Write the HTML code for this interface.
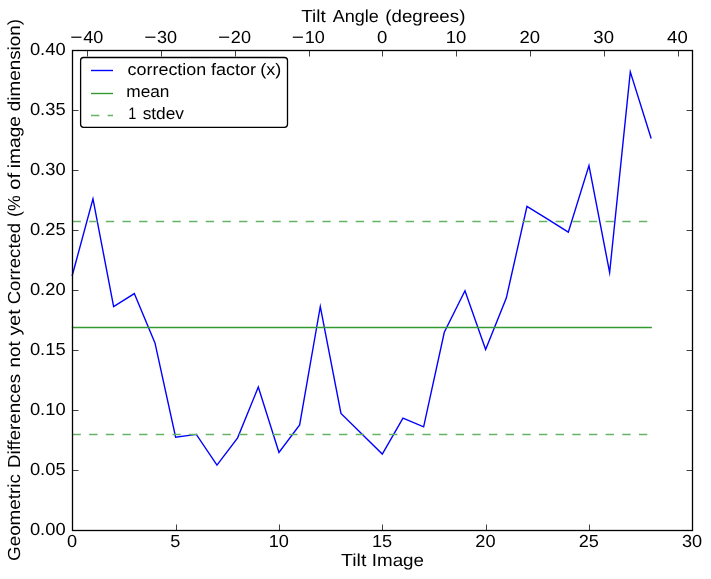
<!DOCTYPE html>
<html><head><meta charset="utf-8"><title>Tilt correction chart</title>
<style>
html,body{margin:0;padding:0;background:#fff;}
body{width:711px;height:579px;overflow:hidden;}
svg{display:block;will-change:transform;transform:translateZ(0);}
text{font-family:"Liberation Sans",sans-serif;fill:#000;text-rendering:geometricPrecision;}
.t{font-size:17.4px;}
.lg{font-size:16.6px;}
</style></head><body>
<svg width="711" height="579" viewBox="0 0 711 579">
<rect x="0" y="0" width="711" height="579" fill="#ffffff"/>

<polyline points="72.30,275.30 92.97,198.80 113.63,306.60 134.30,293.60 154.97,342.90 175.63,437.20 196.30,434.40 216.97,465.10 237.63,437.80 258.30,387.10 278.97,452.40 299.63,424.90 320.30,306.50 340.97,413.40 361.63,433.80 382.30,454.10 402.97,418.10 423.63,426.80 444.30,332.30 464.97,290.70 485.63,349.40 506.30,298.10 526.97,206.40 547.63,219.20 568.30,232.10 588.97,165.50 609.63,272.50 630.30,71.90 650.97,137.80" fill="none" stroke="#0000ff" stroke-width="1.4" stroke-linejoin="miter" stroke-miterlimit="10" stroke-linecap="square"/>
<line x1="72.50" y1="327.50" x2="651.17" y2="327.50" stroke="#339a33" stroke-width="1.4" stroke-linecap="square"/>
<line x1="72.50" y1="221.50" x2="651.17" y2="221.50" stroke="#66b366" stroke-width="1.4" stroke-dasharray="8.33 8.33"/>
<line x1="72.50" y1="434.50" x2="651.17" y2="434.50" stroke="#66b366" stroke-width="1.4" stroke-dasharray="8.33 8.33"/>
<path d="M72.5 530.5v-6.0M176.5 530.5v-6.0M279.5 530.5v-6.0M382.5 530.5v-6.0M486.5 530.5v-6.0M589.5 530.5v-6.0M692.5 530.5v-6.0M87.5 50.5v6.0M161.5 50.5v6.0M235.5 50.5v6.0M309.5 50.5v6.0M382.5 50.5v6.0M456.5 50.5v6.0M530.5 50.5v6.0M604.5 50.5v6.0M678.5 50.5v6.0M72.5 530.5h6.0M692.5 530.5h-6.0M72.5 470.5h6.0M692.5 470.5h-6.0M72.5 410.5h6.0M692.5 410.5h-6.0M72.5 350.5h6.0M692.5 350.5h-6.0M72.5 290.5h6.0M692.5 290.5h-6.0M72.5 230.5h6.0M692.5 230.5h-6.0M72.5 170.5h6.0M692.5 170.5h-6.0M72.5 110.5h6.0M692.5 110.5h-6.0M72.5 50.5h6.0M692.5 50.5h-6.0" stroke="#000" stroke-width="0.75" fill="none"/>
<rect x="72.50" y="50.50" width="620.00" height="480.00" fill="none" stroke="#000" stroke-width="1.3"/>
<text class="t" x="72.10" y="547.40" text-anchor="middle" textLength="10.10" lengthAdjust="spacingAndGlyphs">0</text>
<text class="t" x="175.43" y="547.40" text-anchor="middle" textLength="10.10" lengthAdjust="spacingAndGlyphs">5</text>
<text class="t" x="278.77" y="547.40" text-anchor="middle" textLength="20.20" lengthAdjust="spacingAndGlyphs">10</text>
<text class="t" x="382.10" y="547.40" text-anchor="middle" textLength="20.20" lengthAdjust="spacingAndGlyphs">15</text>
<text class="t" x="485.43" y="547.40" text-anchor="middle" textLength="20.20" lengthAdjust="spacingAndGlyphs">20</text>
<text class="t" x="588.77" y="547.40" text-anchor="middle" textLength="20.20" lengthAdjust="spacingAndGlyphs">25</text>
<text class="t" x="692.10" y="547.40" text-anchor="middle" textLength="20.20" lengthAdjust="spacingAndGlyphs">30</text>
<text class="t" x="70.36" y="43.00" text-anchor="start" textLength="12.20" lengthAdjust="spacingAndGlyphs">−</text>
<text class="t" x="83.26" y="43.00" text-anchor="start" textLength="20.10" lengthAdjust="spacingAndGlyphs">40</text>
<text class="t" x="144.17" y="43.00" text-anchor="start" textLength="12.20" lengthAdjust="spacingAndGlyphs">−</text>
<text class="t" x="157.07" y="43.00" text-anchor="start" textLength="20.10" lengthAdjust="spacingAndGlyphs">30</text>
<text class="t" x="217.98" y="43.00" text-anchor="start" textLength="12.20" lengthAdjust="spacingAndGlyphs">−</text>
<text class="t" x="230.88" y="43.00" text-anchor="start" textLength="20.10" lengthAdjust="spacingAndGlyphs">20</text>
<text class="t" x="291.79" y="43.00" text-anchor="start" textLength="12.20" lengthAdjust="spacingAndGlyphs">−</text>
<text class="t" x="304.69" y="43.00" text-anchor="start" textLength="20.10" lengthAdjust="spacingAndGlyphs">10</text>
<text class="t" x="382.20" y="43.00" text-anchor="middle" textLength="10.30" lengthAdjust="spacingAndGlyphs">0</text>
<text class="t" x="456.01" y="43.00" text-anchor="middle" textLength="20.60" lengthAdjust="spacingAndGlyphs">10</text>
<text class="t" x="529.82" y="43.00" text-anchor="middle" textLength="20.60" lengthAdjust="spacingAndGlyphs">20</text>
<text class="t" x="603.63" y="43.00" text-anchor="middle" textLength="20.60" lengthAdjust="spacingAndGlyphs">30</text>
<text class="t" x="677.44" y="43.00" text-anchor="middle" textLength="20.60" lengthAdjust="spacingAndGlyphs">40</text>
<text class="t" x="65.60" y="535.10" text-anchor="end" textLength="35.70" lengthAdjust="spacingAndGlyphs">0.00</text>
<text class="t" x="65.60" y="475.10" text-anchor="end" textLength="35.70" lengthAdjust="spacingAndGlyphs">0.05</text>
<text class="t" x="65.60" y="415.10" text-anchor="end" textLength="35.70" lengthAdjust="spacingAndGlyphs">0.10</text>
<text class="t" x="65.60" y="355.10" text-anchor="end" textLength="35.70" lengthAdjust="spacingAndGlyphs">0.15</text>
<text class="t" x="65.60" y="295.10" text-anchor="end" textLength="35.70" lengthAdjust="spacingAndGlyphs">0.20</text>
<text class="t" x="65.60" y="235.10" text-anchor="end" textLength="35.70" lengthAdjust="spacingAndGlyphs">0.25</text>
<text class="t" x="65.60" y="175.10" text-anchor="end" textLength="35.70" lengthAdjust="spacingAndGlyphs">0.30</text>
<text class="t" x="65.60" y="115.10" text-anchor="end" textLength="35.70" lengthAdjust="spacingAndGlyphs">0.35</text>
<text class="t" x="65.60" y="55.10" text-anchor="end" textLength="35.70" lengthAdjust="spacingAndGlyphs">0.40</text>
<rect x="80.6" y="57.5" width="206.9" height="69.8" rx="3" ry="3" fill="#fff" stroke="#000" stroke-width="1.3"/>
<line x1="91" y1="70.5" x2="113" y2="70.5" stroke="#0000ff" stroke-width="1.4"/>
<line x1="91" y1="93.5" x2="113" y2="93.5" stroke="#339a33" stroke-width="1.4"/>
<line x1="91" y1="115.5" x2="113" y2="115.5" stroke="#66b366" stroke-width="1.4" stroke-dasharray="8.33 8.33"/>
<text class="t" x="301.22" y="22.00" text-anchor="start" textLength="24.53" lengthAdjust="spacingAndGlyphs">Tilt</text>
<text class="t" x="332.67" y="22.00" text-anchor="start" textLength="46.16" lengthAdjust="spacingAndGlyphs">Angle</text>
<text class="t" x="385.30" y="22.00" text-anchor="start" textLength="80.07" lengthAdjust="spacingAndGlyphs">(degrees)</text>
<text class="t" x="341.02" y="566.00" text-anchor="start" textLength="25.37" lengthAdjust="spacingAndGlyphs">Tilt</text>
<text class="t" x="371.77" y="566.00" text-anchor="start" textLength="52.26" lengthAdjust="spacingAndGlyphs">Image</text>
<text class="lg" x="127.63" y="74.50" text-anchor="start" textLength="78.54" lengthAdjust="spacingAndGlyphs">correction</text>
<text class="lg" x="210.92" y="74.50" text-anchor="start" textLength="45.09" lengthAdjust="spacingAndGlyphs">factor</text>
<text class="lg" x="260.30" y="74.50" text-anchor="start" textLength="21.02" lengthAdjust="spacingAndGlyphs">(x)</text>
<text class="lg" x="126.26" y="96.70" text-anchor="start" textLength="43.19" lengthAdjust="spacingAndGlyphs">mean</text>
<text class="lg" x="128.33" y="119.40" text-anchor="start" textLength="8.03" lengthAdjust="spacingAndGlyphs">1</text>
<text class="lg" x="142.65" y="119.40" text-anchor="start" textLength="41.38" lengthAdjust="spacingAndGlyphs">stdev</text>
<text class="t" transform="translate(20.30 561.00) rotate(-90)" x="0" y="0" text-anchor="start" textLength="86.91" lengthAdjust="spacingAndGlyphs">Geometric</text>
<text class="t" transform="translate(20.30 467.90) rotate(-90)" x="0" y="0" text-anchor="start" textLength="93.90" lengthAdjust="spacingAndGlyphs">Differences</text>
<text class="t" transform="translate(20.30 367.48) rotate(-90)" x="0" y="0" text-anchor="start" textLength="26.14" lengthAdjust="spacingAndGlyphs">not</text>
<text class="t" transform="translate(20.30 335.46) rotate(-90)" x="0" y="0" text-anchor="start" textLength="26.08" lengthAdjust="spacingAndGlyphs">yet</text>
<text class="t" transform="translate(20.30 304.30) rotate(-90)" x="0" y="0" text-anchor="start" textLength="81.49" lengthAdjust="spacingAndGlyphs">Corrected</text>
<text class="t" transform="translate(20.30 217.00) rotate(-90)" x="0" y="0" text-anchor="start" textLength="21.67" lengthAdjust="spacingAndGlyphs">(%</text>
<text class="t" transform="translate(20.30 189.70) rotate(-90)" x="0" y="0" text-anchor="start" textLength="16.84" lengthAdjust="spacingAndGlyphs">of</text>
<text class="t" transform="translate(20.30 168.14) rotate(-90)" x="0" y="0" text-anchor="start" textLength="52.17" lengthAdjust="spacingAndGlyphs">image</text>
<text class="t" transform="translate(20.30 111.28) rotate(-90)" x="0" y="0" text-anchor="start" textLength="92.39" lengthAdjust="spacingAndGlyphs">dimension)</text>
</svg>
</body></html>
